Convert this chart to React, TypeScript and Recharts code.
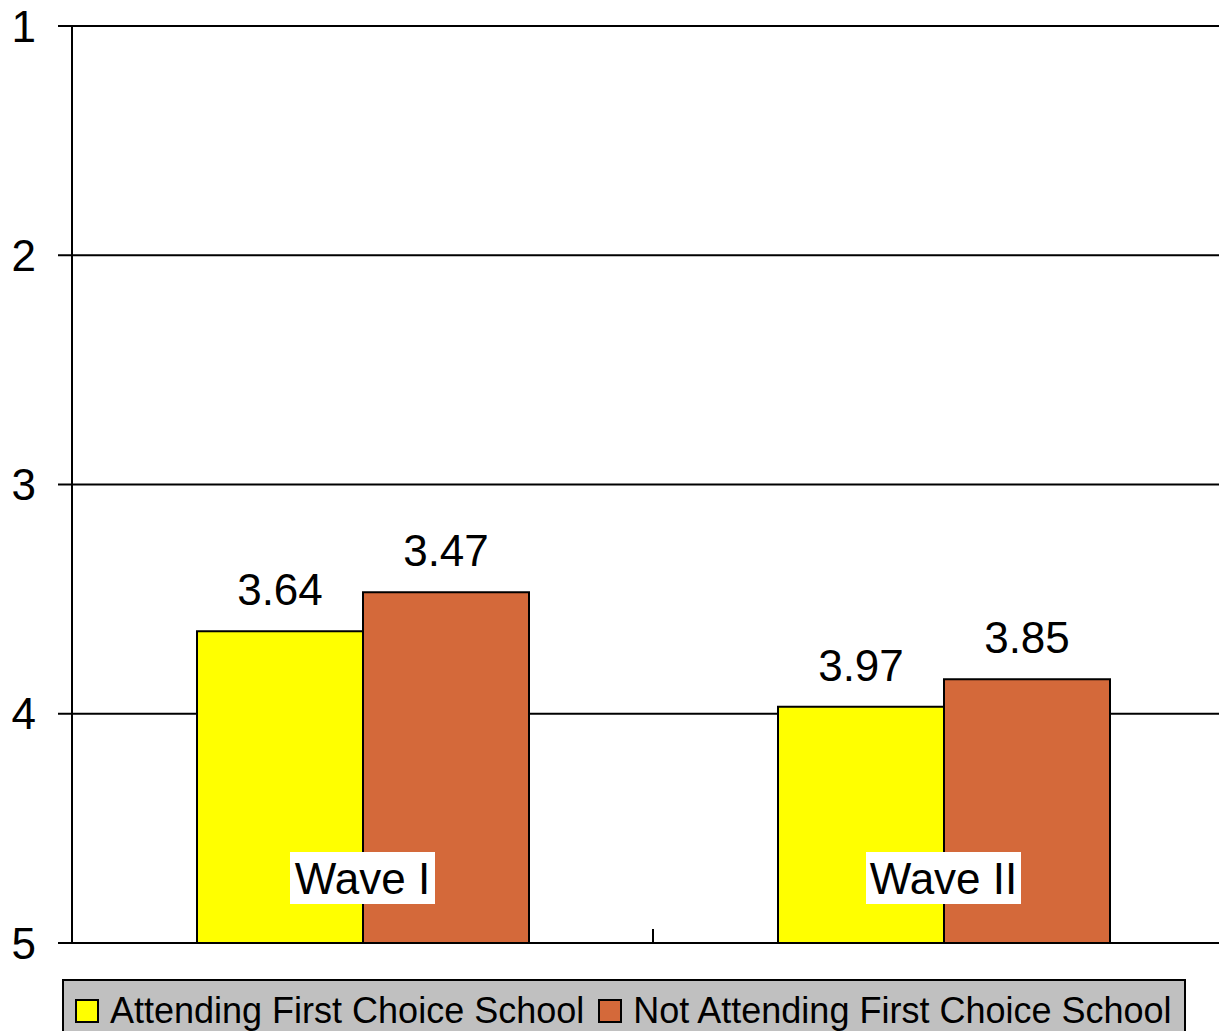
import { BarChart, Bar, XAxis, YAxis, CartesianGrid, LabelList } from 'recharts';

const categories = ['Wave I', 'Wave II'];
const attending = [3.64, 3.97];
const notAttending = [3.47, 3.85];
const yTicks = [1, 2, 3, 4, 5];

const seriesNames = ['Attending First Choice School', 'Not Attending First Choice School'];
const colors = ['#ffff00', '#d4693a'];

const data = categories.map((name, i) => ({
    name,
    attending: attending[i],
    notAttending: notAttending[i],
}));

const font = '"Liberation Sans", Arial, sans-serif';

// category label sits inside the plot on a white box; the divider tick
// between categories is drawn inward from the axis line
function WaveTick(props: any) {
    const { x, y, payload, index } = props;
    const cy = y - 65;
    const w = payload.value === 'Wave I' ? 145 : 155;
    const half = payload.offset || 0;
    return (
        <g>
            {index < categories.length - 1 && half > 0 && (
                <line x1={x + half} x2={x + half} y1={y} y2={y - 14} stroke="#000" strokeWidth={2} />
            )}
            <rect x={x - w / 2} y={cy - 26} width={w} height={52} fill="#ffffff" />
            <text
                x={x}
                y={cy}
                dy="0.355em"
                textAnchor="middle"
                fontSize={44}
                fontFamily={font}
                fill="#000"
            >
                {payload.value}
            </text>
        </g>
    );
}

function ChartLegend() {
    return (
        <div
            style={{
                position: 'absolute',
                left: 62,
                top: 979,
                width: 1124,
                height: 70,
                background: '#c0c0c0',
                border: '2px solid #000',
                fontFamily: font,
                fontSize: 36,
                display: 'flex',
                alignItems: 'flex-start',
                paddingTop: 10,
                boxSizing: 'border-box',
            }}
        >
            {seriesNames.map((n, i) => (
                <div key={n} style={{ display: 'flex', alignItems: 'center', marginLeft: i === 0 ? 11 : 14 }}>
                    <span
                        style={{
                            display: 'inline-block',
                            width: 20,
                            height: 20,
                            background: colors[i],
                            border: '2px solid #000',
                            marginRight: 11,
                        }}
                    />
                    <span style={{ lineHeight: '40px' }}>{n}</span>
                </div>
            ))}
        </div>
    );
}

export default function App() {
    return (
        <div
            style={{
                position: 'absolute',
                left: 0,
                top: 0,
                width: 1219,
                height: 1031,
                overflow: 'hidden',
                background: '#fff',
            }}
        >
            <BarChart
                width={1234}
                height={1031}
                data={data}
                margin={{ top: 26, right: 0, bottom: 0, left: 0 }}
                barSize={166}
                barGap={0}
            >
                <CartesianGrid vertical={false} stroke="#000" strokeWidth={2} />
                <XAxis
                    dataKey="name"
                    height={88}
                    tickLine={false}
                    tickSize={0}
                    tickMargin={0}
                    axisLine={{ stroke: '#000', strokeWidth: 2 }}
                    tick={<WaveTick />}
                />
                <YAxis
                    width={72}
                    domain={[1, 5]}
                    reversed
                    ticks={yTicks}
                    interval={0}
                    tickSize={14}
                    tickMargin={22}
                    axisLine={{ stroke: '#000', strokeWidth: 2 }}
                    tickLine={{ stroke: '#000', strokeWidth: 2 }}
                    tick={{ fill: '#000', fontSize: 44, fontFamily: font }}
                />
                <Bar
                    dataKey={(d: any) => [5, d.attending]}
                    fill={colors[0]}
                    stroke="#000"
                    strokeWidth={2}
                    isAnimationActive={false}
                >
                    <LabelList dataKey="attending" position="top" offset={26} fill="#000" fontSize={44} fontFamily={font} />
                </Bar>
                <Bar
                    dataKey={(d: any) => [5, d.notAttending]}
                    fill={colors[1]}
                    stroke="#000"
                    strokeWidth={2}
                    isAnimationActive={false}
                >
                    <LabelList dataKey="notAttending" position="top" offset={26} fill="#000" fontSize={44} fontFamily={font} />
                </Bar>
            </BarChart>
            <ChartLegend />
        </div>
    );
}
